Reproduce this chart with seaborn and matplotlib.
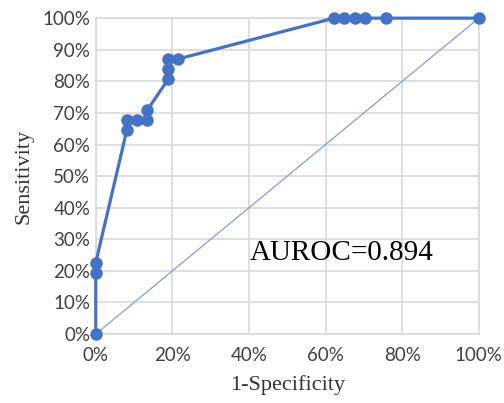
import numpy as np
import pandas as pd
import matplotlib
matplotlib.use("Agg")
import matplotlib.pyplot as plt
import seaborn as sns
from matplotlib.ticker import PercentFormatter

# ROC points (1-specificity, sensitivity), in %
fpr = [0, 0, 0, 8.1, 8.1, 10.8, 13.5, 13.5, 18.9, 18.9, 18.9, 21.6,
       62.2, 64.9, 67.6, 70.3, 75.7, 100]
tpr = [0, 19.4, 22.6, 64.5, 67.7, 67.7, 67.7, 71.0, 80.6, 83.9, 87.1, 87.1,
       100, 100, 100, 100, 100, 100]
diag = [0, 100]
auroc = 0.894

df = pd.DataFrame({"fpr": fpr, "tpr": tpr})

sns.set_style("whitegrid", {"grid.color": "#d9d9d9", "axes.edgecolor": "#d9d9d9"})

fig = plt.figure(figsize=(5.04, 4.03), dpi=100)
ax = fig.add_axes([0.190, 0.171, 0.760, 0.784])

ax.plot(diag, diag, color="#7f9fd6", lw=0.9, zorder=2)
sns.lineplot(data=df, x="fpr", y="tpr", sort=False, estimator=None,
             color="#4472C4", lw=2.3, marker="o", markersize=9,
             markeredgewidth=0, ax=ax, zorder=3)

ax.set_xlim(0, 100)
ax.set_ylim(0, 100)
ax.set_xticks(np.arange(0, 101, 20))
ax.set_yticks(np.arange(0, 101, 10))
ax.xaxis.set_major_formatter(PercentFormatter(decimals=0))
ax.yaxis.set_major_formatter(PercentFormatter(decimals=0))
for lab in ax.get_xticklabels() + ax.get_yticklabels():
    lab.set_fontfamily("Lato")
    lab.set_fontsize(13.5)
    lab.set_color("#404040")
ax.tick_params(axis="x", length=0, pad=9)
ax.tick_params(axis="y", length=0, pad=4)
for s in ax.spines.values():
    s.set_linewidth(1.2)
    s.set_color("#d9d9d9")
ax.grid(lw=1.2)

ax.set_xlabel("1-Specificity", family="Liberation Serif", fontsize=16,
              color="#333333", labelpad=8)
ax.set_ylabel("Sensitivity", family="Liberation Serif", fontsize=16,
              color="#333333", labelpad=6)
ax.text(40.2, 25.6, f"AUROC={auroc}", family="Liberation Serif", fontsize=21,
        va="center", ha="left", color="black")

for ln in ax.lines:
    ln.set_clip_on(False)

fig.savefig("out.png", dpi=100)
